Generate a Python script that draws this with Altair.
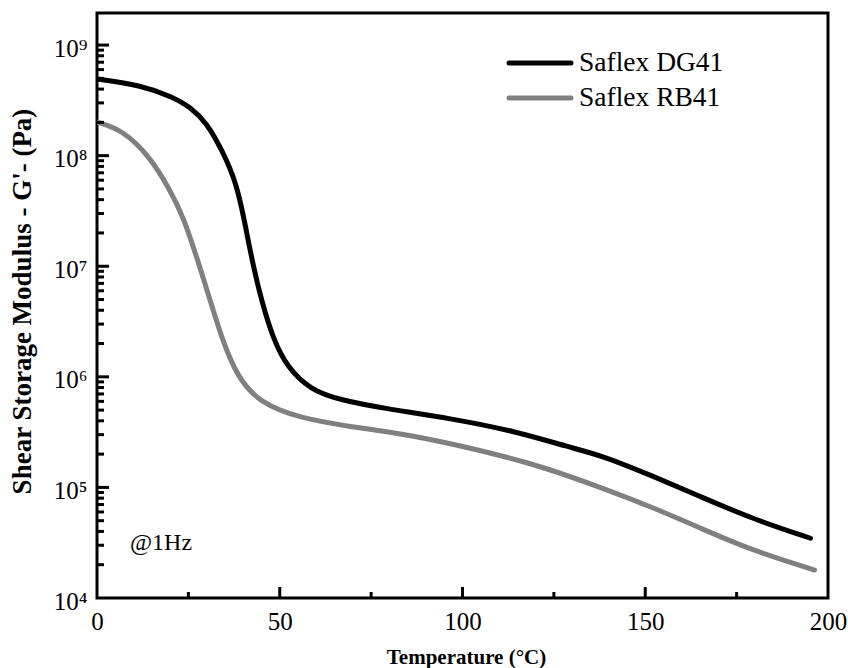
import altair as alt
import pandas as pd

# ---- data ----
temp_dg41 = [0, 11.8, 20.8, 25.5, 30.1, 34.2, 38.3, 41.0, 42.8, 45.0, 48.3, 52.0, 58.4,
             66.6, 78.4, 96.7, 115.0, 128.7, 137.8, 151.5, 165.2, 178.9, 195.2]
g_dg41 = [4.93e8, 4.35e8, 3.39e8, 2.75e8, 1.97e8, 1.12e8, 5.61e7, 1.98e7, 9.9e6, 4.9e6,
          2.15e6, 1.23e6, 7.60e5, 6.17e5, 5.19e5, 4.22e5, 3.19e5, 2.33e5, 1.96e5, 1.29e5,
          8.24e4, 5.26e4, 3.47e4]

temp_rb41 = [0, 7.1, 14.5, 20.0, 23.6, 27.3, 30.1, 34.0, 38.3, 44.7, 55.6, 69.3, 83.0,
             96.7, 119.5, 137.8, 151.5, 165.2, 178.9, 196.3]
g_rb41 = [2.01e8, 1.70e8, 9.77e7, 4.89e7, 2.81e7, 1.20e7, 6.10e6, 2.29e6, 1.00e6, 5.75e5,
          4.22e5, 3.54e5, 3.08e5, 2.51e5, 1.65e5, 1.0e5, 6.70e4, 4.27e4, 2.72e4, 1.79e4]

series_names = ["Saflex DG41", "Saflex RB41"]
series_colors = ["#000000", "#808080"]

x_ticks = [0, 50, 100, 150, 200]
x_major_marks = [50, 100, 150]
x_minor = [25, 75, 125, 175]
y_ticks = [1e4, 1e5, 1e6, 1e7, 1e8, 1e9]
y_minor = [k * 10.0 ** d for d in range(4, 9) for k in range(2, 10)]

annotation = "@1Hz"

# ---- build tables ----
df = pd.concat([
    pd.DataFrame({"T": temp_dg41, "G": g_dg41, "series": series_names[0]}),
    pd.DataFrame({"T": temp_rb41, "G": g_rb41, "series": series_names[1]}),
])

W, H = 731, 585
FONT = "Liberation Serif"

xscale = alt.Scale(domain=[0, 200], nice=False, zero=False)
yscale = alt.Scale(type="log", domain=[1e4, 1.95e9], nice=False)

sup_expr = ("'10' + ['\u2070','\u00b9','\u00b2','\u00b3','\u2074','\u2075','\u2076','\u2077','\u2078','\u2079']"
            "[round(log(datum.value)/LN10)]")

x_axis = alt.Axis(values=x_ticks, title="Temperature (\u00b0C)", ticks=False, domain=False,
                  grid=False, labelFont=FONT, labelFontSize=25, labelColor="black",
                  labelPadding=11, labelFlush=False, titleFont=FONT, titleFontSize=21,
                  titleFontWeight="bold", titleColor="black", titleX=369, titleY=59,
                  titleBaseline="middle")
y_axis = alt.Axis(values=y_ticks, labelExpr=sup_expr, title="Shear Storage Modulus - G'- (Pa)",
                  ticks=False, domain=False, grid=False, labelFont=FONT, labelFontSize=25,
                  labelColor="black", labelPadding=10, labelOffset=3, labelFlush=False,
                  titleFont=FONT, titleFontSize=27, titleFontWeight="bold", titleColor="black",
                  titleAngle=-90, titleX=-75, titleY=288, titleAlign="center",
                  titleBaseline="middle")

lines = alt.Chart(df).mark_line(strokeWidth=5, interpolate="basis", strokeCap="round", clip=True).encode(
    x=alt.X("T:Q", scale=xscale, axis=x_axis),
    y=alt.Y("G:Q", scale=yscale, axis=y_axis),
    color=alt.Color("series:N", scale=alt.Scale(domain=series_names, range=series_colors), legend=None),
    detail="series:N",
)

# inward tick marks
xmaj = alt.Chart(pd.DataFrame({"T": x_major_marks})).mark_rule(strokeWidth=3, color="black").encode(
    x=alt.X("T:Q", scale=xscale, axis=x_axis), y=alt.value(H), y2=alt.value(H - 11))
xmin = alt.Chart(pd.DataFrame({"T": x_minor})).mark_rule(strokeWidth=3, color="black").encode(
    x=alt.X("T:Q", scale=xscale, axis=x_axis), y=alt.value(H), y2=alt.value(H - 6))
ymaj = alt.Chart(pd.DataFrame({"G": y_ticks[1:]})).mark_rule(strokeWidth=3, color="black").encode(
    y=alt.Y("G:Q", scale=yscale, axis=y_axis), x=alt.value(0), x2=alt.value(12))
ymin = alt.Chart(pd.DataFrame({"G": y_minor})).mark_rule(strokeWidth=3, color="black").encode(
    y=alt.Y("G:Q", scale=yscale, axis=y_axis), x=alt.value(0), x2=alt.value(7))

# manual legend
legend_layers = []
for i, (name, col) in enumerate(zip(series_names, series_colors)):
    ly = 50 + i * 35
    legend_layers.append(
        alt.Chart(pd.DataFrame({"name": [name]})).mark_rule(strokeWidth=5, color=col, strokeCap="round").encode(
            x=alt.value(412), x2=alt.value(474), y=alt.value(ly)))
    legend_layers.append(
        alt.Chart(pd.DataFrame({"name": [name]})).mark_text(
            align="left", baseline="middle", font=FONT, fontSize=27.5, color="black", dy=0).encode(
            x=alt.value(482), y=alt.value(ly), text="name:N"))

note = alt.Chart(pd.DataFrame({"t": [annotation]})).mark_text(
    align="left", baseline="middle", font=FONT, fontSize=24, color="black").encode(
    x=alt.value(33), y=alt.value(530), text="t:N")

chart = alt.layer(lines, xmaj, xmin, ymaj, ymin, note, *legend_layers).properties(
    width=W, height=H,
    autosize=alt.AutoSizeParams(type="none"),
    padding={"left": 97, "top": 13, "right": 20, "bottom": 70},
    background="white",
).configure_view(stroke="black", strokeWidth=3)

chart.save("out.html", embed_options={"renderer": "svg", "actions": False})
